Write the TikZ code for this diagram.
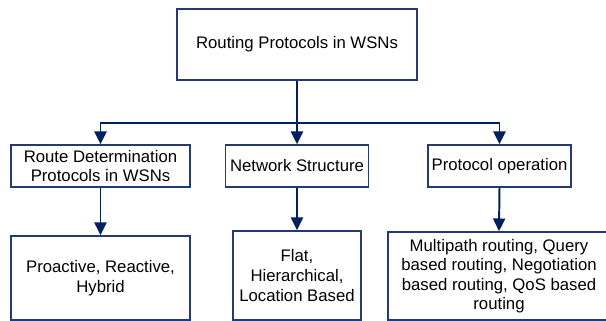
\documentclass[tikz,border=0pt]{standalone}
\usepackage{fontspec}
\setmainfont{Liberation Sans}
\usetikzlibrary{arrows.meta}

\definecolor{linkblue}{RGB}{0,32,96}
\definecolor{boxblue}{RGB}{36,58,118}

\tikzset{
    box/.style={draw=boxblue, line width=1pt, align=center, inner sep=0pt,
        font=\fontsize{11.9pt}{13.9pt}\selectfont},
    link/.style={draw=linkblue, line width=1.4pt},
    linkarrow/.style={link, -{Triangle[width=0.3cm,length=0.32cm]}}
}

\begin{document}
\begin{tikzpicture}[x=0.025cm, y=-0.025cm]
    \clip (0, 0) rectangle (606, 321);
    \coordinate (T) at (297, 44.5);
    \coordinate (S) at (297, 123);
    \coordinate (M1) at (100.5, 166);
    \coordinate (M2) at (297, 166);
    \coordinate (M3) at (499.5, 166);
    \coordinate (B1) at (100.5, 278);
    \coordinate (B2) at (297, 275.5);
    \coordinate (B3) at (499, 276);
    \node (routing) at (T) [box, minimum width=6cm, minimum height=1.775cm] {Routing Protocols in WSNs};
    \node (route) at (M1) [box, minimum width=4.475cm, minimum height=1.05cm] {Route Determination\\Protocols in WSNs};
    \node (network) at (M2) [box, minimum width=3.575cm, minimum height=1.05cm] {Network Structure};
    \node (operation) at (M3) [box, minimum width=3.575cm, minimum height=1.05cm] {Protocol operation};
    \node (proactive) at (B1) [box, minimum width=4.475cm, minimum height=2.1cm] {Proactive, Reactive,\\Hybrid};
    \node (flat) at (B2) [box, minimum width=3.2cm, minimum height=2.225cm] {Flat,\\Hierarchical,\\Location Based};
    \node (multipath) at (B3) [box, minimum width=5.55cm, minimum height=2.2cm] {Multipath routing, Query\\based routing, Negotiation\\based routing, QoS based\\routing};
    \draw[link] (routing.south) -- (S);
    \draw[linkarrow] (S) -| (route.north);
    \draw[linkarrow] (S) -- (network.north);
    \draw[linkarrow] (S) -| (operation.north);
    \draw[linkarrow] (route.south) -- (proactive.north);
    \draw[linkarrow] (network.south) -- (flat.north);
    \draw[linkarrow] (operation.south) -- (multipath.north);
\end{tikzpicture}
\end{document}
